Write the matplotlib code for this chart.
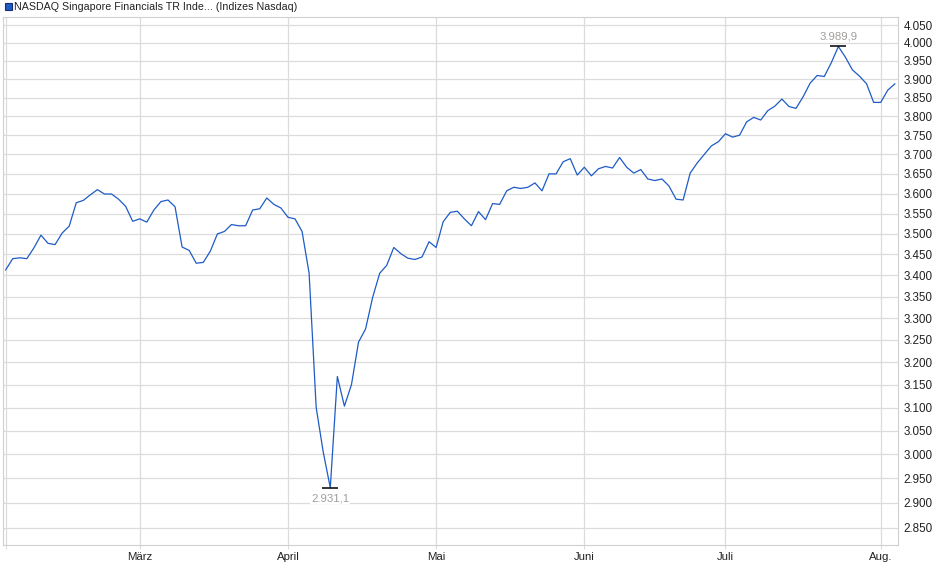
import numpy as np
import pandas as pd
import matplotlib
matplotlib.use('Agg')
import matplotlib.pyplot as plt
from matplotlib.ticker import FixedLocator, FuncFormatter, NullLocator
from matplotlib.patches import Rectangle

plt.rcParams['font.family'] = ['Liberation Sans', 'DejaVu Sans']

# trading days (US calendar) Feb 3 - Aug 5, 2025
holidays = ['2025-02-17', '2025-04-18', '2025-05-26', '2025-06-19', '2025-07-04']
dates = pd.bdate_range('2025-02-03', '2025-08-05')
dates = dates[~dates.isin(pd.to_datetime(holidays))]

values = [3413, 3440, 3442, 3440, 3466, 3497, 3477, 3474, 3502, 3519,
          3577, 3583, 3597, 3610, 3599, 3599, 3586, 3568, 3531, 3537,
          3529, 3559, 3580, 3584, 3567, 3468, 3460, 3429, 3431, 3458,
          3500, 3506, 3523, 3520, 3520, 3559, 3562, 3589, 3573, 3564,
          3541, 3537, 3506, 3405, 3100, 3005, 2931.1, 3168, 3103, 3150,
          3245, 3275, 3348, 3405, 3424, 3467, 3452, 3441, 3438, 3444,
          3481, 3467, 3530, 3553, 3556, 3537, 3520, 3555, 3535, 3575,
          3573, 3607, 3616, 3613, 3616, 3627, 3607, 3650, 3650, 3681,
          3689, 3647, 3667, 3645, 3663, 3669, 3665, 3692, 3667, 3652,
          3661, 3637, 3633, 3637, 3619, 3586, 3584, 3652, 3678, 3700,
          3722, 3733, 3754, 3745, 3750, 3785, 3797, 3790, 3815, 3827,
          3846, 3826, 3821, 3852, 3889, 3910, 3907, 3945, 3989.9, 3960,
          3925, 3908, 3887, 3837, 3837, 3870, 3887]

month_labels = ['', 'März', 'April', 'Mai', 'Juni', 'Juli', 'Aug.']
y_ticks = list(range(2850, 4051, 50))
legend_text = 'NASDAQ Singapore Financials TR Inde... (Indizes Nasdaq)'

x = np.arange(len(dates))
vals = np.array(values)
# first trading day of each month
month_pos = [i for i in range(len(dates)) if i == 0 or dates[i].month != dates[i - 1].month]

W, H = 940, 579
fig = plt.figure(figsize=(W / 100, H / 100), dpi=100)
ax = fig.add_axes([3 / W, 34 / H, 895 / W, 528 / H])

grid_c = '#dcdcdc'
ax.plot(x, vals, color='#1e5bc6', lw=0.9, zorder=3)

ax.set_yscale('log')
ax.set_ylim(2816, 4073)
ax.set_xlim(-0.38, 126.45)

ax.yaxis.set_major_locator(FixedLocator(y_ticks))
ax.yaxis.set_minor_locator(NullLocator())
ax.yaxis.set_major_formatter(FuncFormatter(lambda v, p: f'{v:,.0f}'.replace(',', '.')))
ax.yaxis.tick_right()
ax.tick_params(axis='y', length=0, pad=4, labelsize=8.4, labelcolor='#222222')

ax.set_xticks(month_pos)
ax.set_xticklabels(month_labels)
ax.tick_params(axis='x', length=3, width=0.8, color=grid_c, pad=2,
               labelsize=8.2, labelcolor='#222222')

ax.grid(True, color=grid_c, lw=0.9, zorder=0)
for s in ax.spines.values():
    s.set_color('#d0d0d0')
    s.set_linewidth(0.8)

# min / max markers
i_min, i_max = int(np.argmin(vals)), int(np.argmax(vals))
lab_c = '#a09d9a'
for i, dy in [(i_min, -7.5), (i_max, 7.5)]:
    ax.plot(x[i], vals[i], marker='_', ms=11, mew=1.1, color='black', zorder=4)
    ax.annotate(f'{vals[i]:,.1f}'.replace(',', 'X').replace('.', ',').replace('X', '.'),
                (x[i], vals[i]), xytext=(0, dy), textcoords='offset points',
                ha='center', va='center', fontsize=8.2, color=lab_c, zorder=5,
                bbox=dict(boxstyle='square,pad=0.1', fc='white', ec='none'))

# legend
fig.add_artist(Rectangle((4.5 / W, 1 - 10 / H), 7 / W, 7 / H, transform=fig.transFigure,
                         fc='#1e5bc6', ec='#1a2f6e', lw=0.8))
fig.text(14 / W, 1 - 6.5 / H, legend_text, fontsize=7.7, color='#222222', va='center', ha='left')

fig.savefig('out.png', dpi=100)
